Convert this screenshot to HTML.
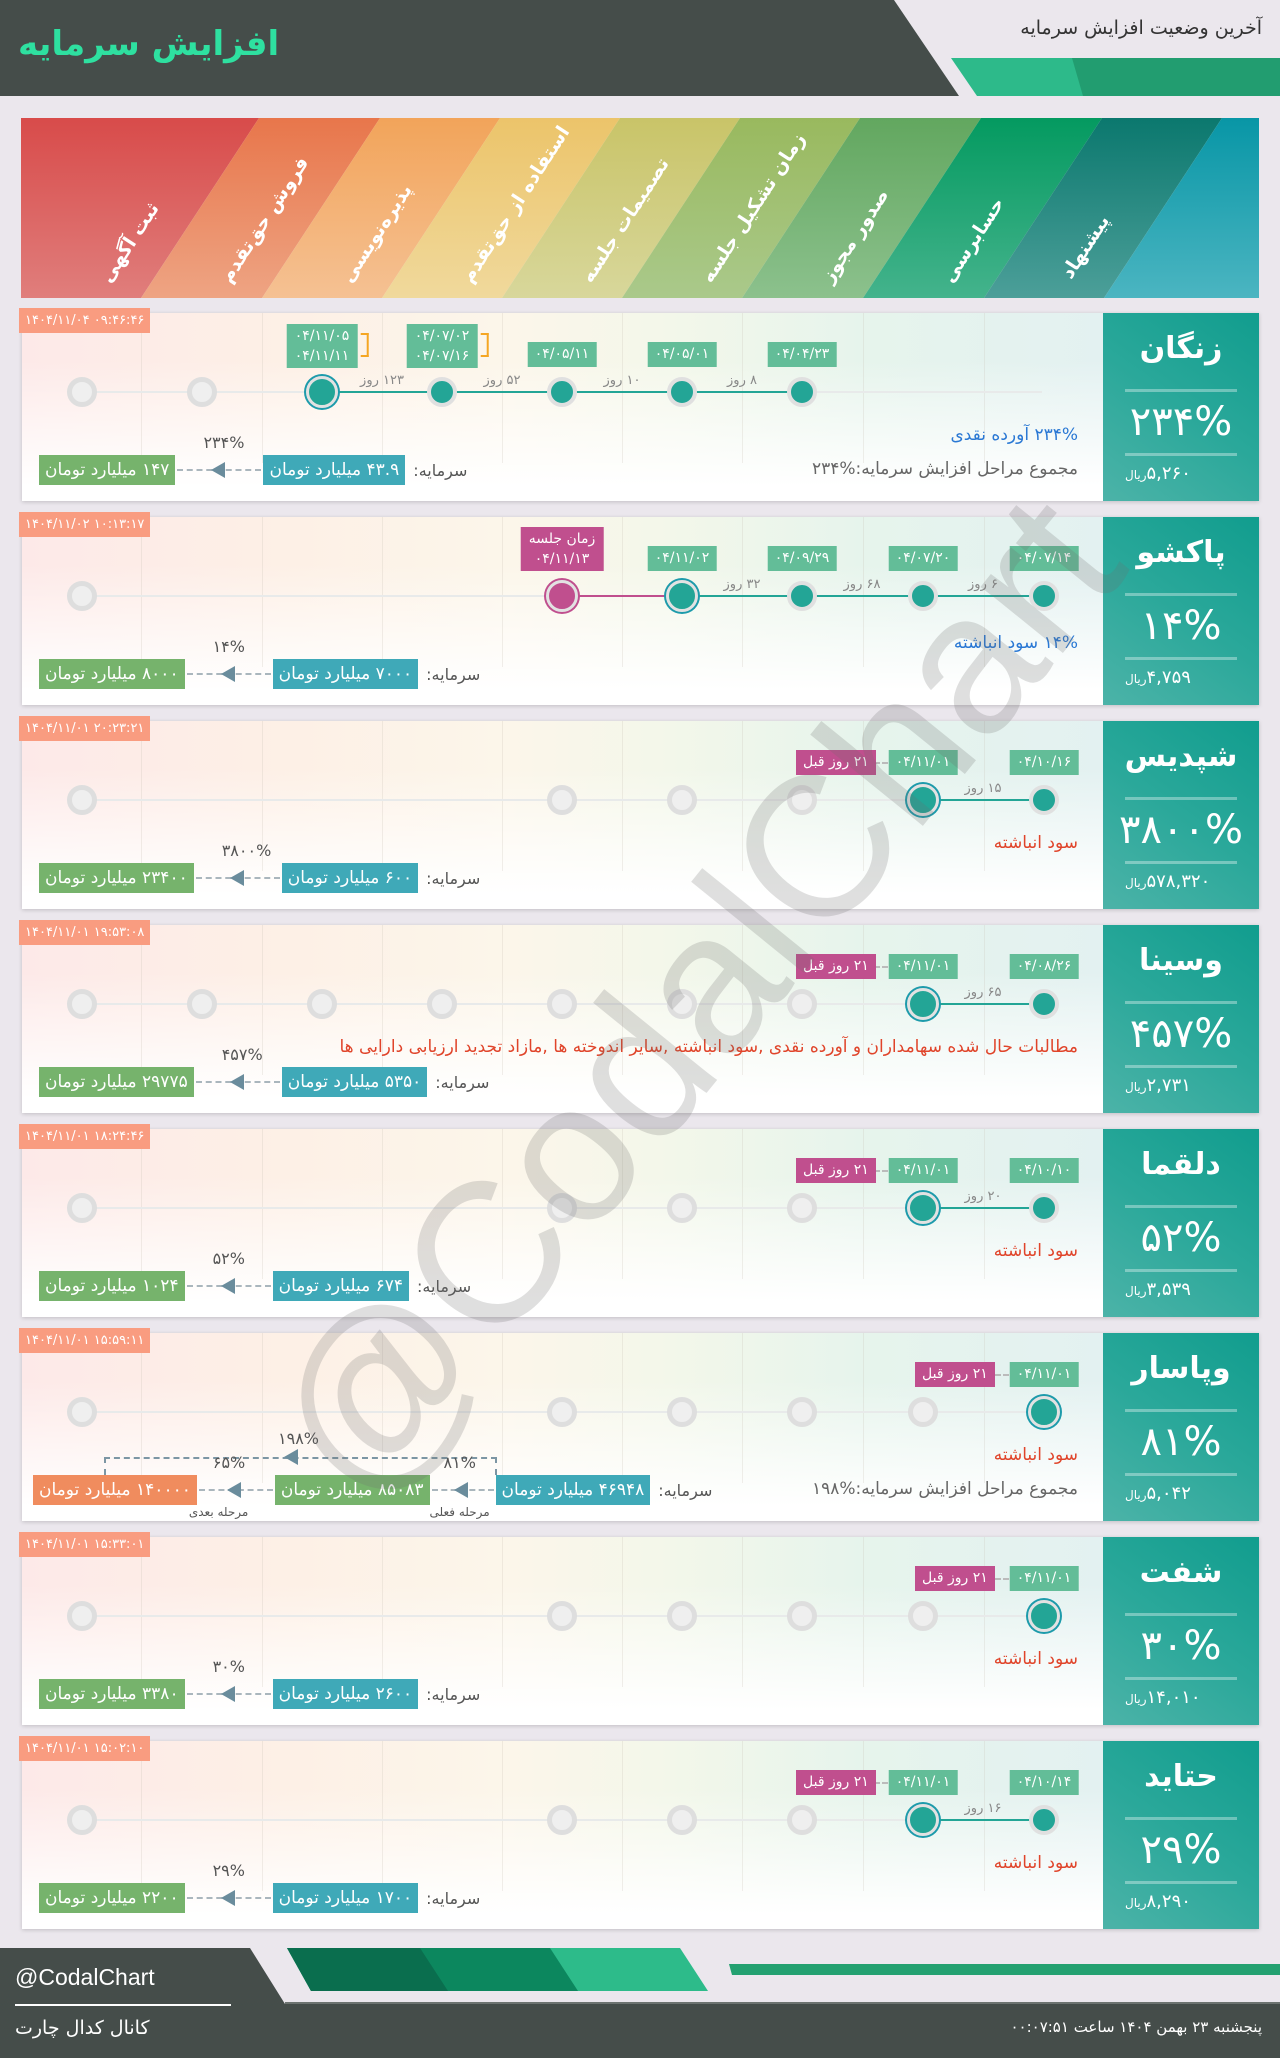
<!DOCTYPE html>
<html><head><meta charset="utf-8">
<style>
*{margin:0;padding:0;box-sizing:border-box}
body{width:1280px;height:2058px;background:#ebe7ed;position:relative;overflow:hidden;font-family:"DejaVu Sans","Liberation Sans",sans-serif}
.ab{position:absolute}
.card{position:absolute;left:22px;width:1237px;height:188px;background:#fff;box-shadow:0 1px 4px rgba(0,0,0,.18)}
.main{position:absolute;left:0;top:0;width:1081px;height:188px;background:linear-gradient(to bottom,rgba(255,255,255,0) 25%,#fff 92%),linear-gradient(to right,#fde9e8 0%,#fdf0e6 25%,#fcf6ea 45%,#f3f7ea 60%,#e6f4ec 78%,#e3f1f1 100%)}
.vl{position:absolute;top:0;width:1px;height:150px;background:rgba(200,190,180,.25)}
.gl{position:absolute;left:60px;width:960px;top:78px;height:2px;background:#e8eaea}
.c{position:absolute;top:79px;border-radius:50%;transform:translate(-50%,-50%)}
.g{width:30px;height:30px;border:5px solid #dedede;background:#efefef}
.t{width:30px;height:30px;border:4px solid #e0e0e0;background:#23a596}
.a{width:32px;height:32px;border:3px solid #e2e2e2;background:#23a596;box-shadow:0 0 0 2px #1d9bab}
.p{width:32px;height:32px;border:3px solid #e2e2e2;background:#c04f8e;box-shadow:0 0 0 2px #c04f8e}
.ln{position:absolute;top:78px;height:2px;background:#23a596}
.d{position:absolute;top:29px;height:25px;line-height:25px;padding:0 7px;background:#63bd98;color:#fff;font-size:14px;transform:translateX(-50%);white-space:nowrap;direction:ltr;unicode-bidi:bidi-override}
.d2{top:11px;height:44px;line-height:20px;padding:2px 8px;text-align:center}
.dr{direction:rtl;unicode-bidi:embed}
.br{position:absolute;right:-11px;top:9px;width:8px;height:24px;border:2px solid #f5a623;border-left:none}
.pk{position:absolute;top:29px;height:25px;line-height:25px;padding:0 7px;background:#c04f8e;color:#fff;font-size:14px;white-space:nowrap;direction:rtl}
.dash{position:absolute;top:41px;height:0;border-top:2px dashed #bbb}
.day{position:absolute;top:60px;font-size:13px;color:#888;transform:translateX(-50%);white-space:nowrap;direction:rtl}
.ts{position:absolute;left:-3px;top:-5px;background:#f99c80;color:#fff;font-size:13px;padding:0 6px;height:25px;line-height:25px;white-space:nowrap;direction:ltr;unicode-bidi:bidi-override}
.rt{position:absolute;right:25px;font-size:17px;white-space:nowrap;direction:rtl}
.lt{direction:ltr;unicode-bidi:embed}
.blue{color:#2a78d4}.red{color:#e0442a}.gr{color:#666}
.row{position:absolute;left:17px;top:142px;display:flex;align-items:center;height:30px}
.bx{height:30px;line-height:30px;padding:0 6px;color:#fff;font-size:17px;white-space:nowrap;direction:rtl}
.bt{background:#3fa9b8}.bg{background:#76b36c}.bo{background:#f08c5e}
.arw{position:relative;width:88px;height:30px}
.arw:before{content:"";position:absolute;left:2px;right:2px;top:14px;border-top:2px dashed #aab6bd}
.tri{position:absolute;left:36px;top:7px;width:0;height:0;border-top:8px solid transparent;border-bottom:8px solid transparent;border-right:14px solid #6a8c9c}
.pct{position:absolute;left:28px;top:-22px;font-size:16px;color:#555;white-space:nowrap}
.lab{font-size:16px;color:#555;margin-left:8px;white-space:nowrap;direction:rtl}
.sm{position:absolute;top:30px;font-size:12px;color:#555;white-space:nowrap;direction:rtl}
.panel{position:absolute;left:1081px;top:0;width:156px;height:188px;background:linear-gradient(215deg,#119d8e 0%,#2aa89a 50%,#4cb3a8 100%);color:#fff;text-align:center}
.nm{position:absolute;left:0;right:0;top:18px;font-size:30px;font-weight:bold}
.hr{position:absolute;left:22px;width:112px;height:3px;background:rgba(255,255,255,.35)}
.pc{position:absolute;left:0;right:0;top:84px;font-size:40px;line-height:50px}
.pr{position:absolute;left:22px;top:150px;font-size:18px;white-space:nowrap;direction:rtl}
.pr small{font-size:12px}
</style></head><body>

<!-- header -->
<svg class="ab" style="left:0;top:0" width="1280" height="118">
<polygon points="0,0 894,0 959,96 0,96" fill="#454d4a"/>
<polygon points="951,58 1280,58 1280,96 977,96" fill="#2dba8a"/>
<polygon points="1072,58 1280,58 1280,96 1083,96" fill="#229d70"/>
<text x="18" y="55" font-size="34" font-weight="bold" fill="#2ee0a0" font-family="DejaVu Sans">افزایش سرمایه</text>
<text x="1262" y="34" font-size="19" fill="#333" text-anchor="end" font-family="DejaVu Sans">آخرین وضعیت افزایش سرمایه</text>
</svg>

<!-- stage header -->
<svg class="ab" style="left:0;top:0" width="1280" height="310">
<defs>
<clipPath id="cp"><rect x="21" y="118" width="1238" height="180"/></clipPath>
<linearGradient id="g0" x1="0" y1="0" x2="0" y2="1"><stop offset="0" stop-color="#d84b4a"/><stop offset="1" stop-color="#e07e7c"/></linearGradient>
<linearGradient id="g1" x1="0" y1="0" x2="0" y2="1"><stop offset="0" stop-color="#e8764b"/><stop offset="1" stop-color="#eea483"/></linearGradient>
<linearGradient id="g2" x1="0" y1="0" x2="0" y2="1"><stop offset="0" stop-color="#f2a45a"/><stop offset="1" stop-color="#f5c193"/></linearGradient>
<linearGradient id="g3" x1="0" y1="0" x2="0" y2="1"><stop offset="0" stop-color="#ecc46a"/><stop offset="1" stop-color="#f0d99c"/></linearGradient>
<linearGradient id="g4" x1="0" y1="0" x2="0" y2="1"><stop offset="0" stop-color="#c9c468"/><stop offset="1" stop-color="#d8d79b"/></linearGradient>
<linearGradient id="g5" x1="0" y1="0" x2="0" y2="1"><stop offset="0" stop-color="#99b95e"/><stop offset="1" stop-color="#aac98b"/></linearGradient>
<linearGradient id="g6" x1="0" y1="0" x2="0" y2="1"><stop offset="0" stop-color="#62a75f"/><stop offset="1" stop-color="#8cc18d"/></linearGradient>
<linearGradient id="g7" x1="0" y1="0" x2="0" y2="1"><stop offset="0" stop-color="#049a60"/><stop offset="1" stop-color="#44b38c"/></linearGradient>
<linearGradient id="g8" x1="0" y1="0" x2="0" y2="1"><stop offset="0" stop-color="#0b786e"/><stop offset="1" stop-color="#4c9f99"/></linearGradient>
<linearGradient id="g9" x1="0" y1="0" x2="0" y2="1"><stop offset="0" stop-color="#0896a6"/><stop offset="1" stop-color="#4bb5c1"/></linearGradient>
</defs>
<g clip-path="url(#cp)">
<polygon points="-82,118 259,118 141,298 -200,298" fill="url(#g0)"/>
<polygon points="259,118 380,118 262,298 141,298" fill="url(#g1)"/>
<polygon points="380,118 500,118 382,298 262,298" fill="url(#g2)"/>
<polygon points="500,118 620,118 502,298 382,298" fill="url(#g3)"/>
<polygon points="620,118 740,118 622,298 502,298" fill="url(#g4)"/>
<polygon points="740,118 860,118 742,298 622,298" fill="url(#g5)"/>
<polygon points="860,118 981,118 863,298 742,298" fill="url(#g6)"/>
<polygon points="981,118 1102,118 984,298 863,298" fill="url(#g7)"/>
<polygon points="1102,118 1222,118 1104,298 984,298" fill="url(#g8)"/>
<polygon points="1222,118 1400,118 1400,298 1104,298" fill="url(#g9)"/>
</g>
<g font-size="19" font-weight="bold" fill="#fff" font-family="DejaVu Sans">
<text x="110" y="284" transform="rotate(-57 110 284)">ثبت آگهی</text>
<text x="230" y="284" transform="rotate(-57 230 284)">فروش حق‌تقدم</text>
<text x="351" y="284" transform="rotate(-57 351 284)">پذیره‌نویسی</text>
<text x="471" y="284" transform="rotate(-57 471 284)">استفاده از حق‌تقدم</text>
<text x="591" y="284" transform="rotate(-57 591 284)">تصمیمات جلسه</text>
<text x="711" y="284" transform="rotate(-57 711 284)">زمان تشکیل جلسه</text>
<text x="831" y="284" transform="rotate(-57 831 284)">صدور مجوز</text>
<text x="952" y="284" transform="rotate(-57 952 284)">حسابرسی</text>
<text x="1071" y="280" transform="rotate(-57 1071 280)">پیشنهاد</text>
</g>
</svg>

<!-- CARD 1 -->
<div class="card" style="top:313px"><div class="main">
<div class="vl" style="left:119px"></div><div class="vl" style="left:240px"></div><div class="vl" style="left:360px"></div><div class="vl" style="left:480px"></div><div class="vl" style="left:600px"></div><div class="vl" style="left:720px"></div><div class="vl" style="left:841px"></div><div class="vl" style="left:962px"></div>
<div class="gl"></div>
<div class="ln" style="left:300px;width:480px"></div>
<div class="c g" style="left:60px"></div><div class="c g" style="left:180px"></div>
<div class="c a" style="left:300px"></div><div class="c t" style="left:420px"></div><div class="c t" style="left:540px"></div><div class="c t" style="left:660px"></div><div class="c t" style="left:780px"></div>
<div class="d d2" style="left:300px">۰۴/۱۱/۰۵<br>۰۴/۱۱/۱۱<div class="br"></div></div>
<div class="d d2" style="left:420px">۰۴/۰۷/۰۲<br>۰۴/۰۷/۱۶<div class="br"></div></div>
<div class="d" style="left:540px">۰۴/۰۵/۱۱</div><div class="d" style="left:660px">۰۴/۰۵/۰۱</div><div class="d" style="left:780px">۰۴/۰۴/۲۳</div>
<div class="day" style="left:360px">۱۲۳ روز</div><div class="day" style="left:480px">۵۲ روز</div><div class="day" style="left:600px">۱۰ روز</div><div class="day" style="left:720px">۸ روز</div>
<div class="rt blue" style="top:112px">۲۳۴% آورده نقدی</div>
<div class="rt gr" style="top:146px">مجموع مراحل افزایش سرمایه:<span class="lt">۲۳۴%</span></div>
<div class="row"><div class="bx bg">۱۴۷ میلیارد تومان</div><div class="arw"><div class="tri"></div><div class="pct">۲۳۴%</div></div><div class="bx bt">۴۳.۹ میلیارد تومان</div><div class="lab">سرمایه:</div></div>
<div class="ts">۱۴۰۴/۱۱/۰۴ ۰۹:۴۶:۴۶</div>
</div><div class="panel"><div class="nm">زنگان</div><div class="hr" style="top:76px"></div><div class="pc">۲۳۴%</div><div class="hr" style="top:140px"></div><div class="pr">۵,۲۶۰<small>ریال</small></div></div></div>

<!-- CARD 2 -->
<div class="card" style="top:517px"><div class="main">
<div class="vl" style="left:119px"></div><div class="vl" style="left:240px"></div><div class="vl" style="left:360px"></div><div class="vl" style="left:480px"></div><div class="vl" style="left:600px"></div><div class="vl" style="left:720px"></div><div class="vl" style="left:841px"></div><div class="vl" style="left:962px"></div>
<div class="gl"></div>
<div class="ln" style="left:540px;width:120px;background:#c04f8e"></div>
<div class="ln" style="left:660px;width:362px"></div>
<div class="c g" style="left:60px"></div>
<div class="c p" style="left:540px"></div><div class="c a" style="left:660px"></div><div class="c t" style="left:780px"></div><div class="c t" style="left:901px"></div><div class="c t" style="left:1022px"></div>
<div class="d d2" style="left:540px;background:#c04f8e;top:10px"><span class="dr">زمان جلسه</span><br>۰۴/۱۱/۱۳</div>
<div class="d" style="left:660px">۰۴/۱۱/۰۲</div><div class="d" style="left:780px">۰۴/۰۹/۲۹</div><div class="d" style="left:901px">۰۴/۰۷/۲۰</div><div class="d" style="left:1022px">۰۴/۰۷/۱۴</div>
<div class="day" style="left:720px">۳۲ روز</div><div class="day" style="left:840px">۶۸ روز</div><div class="day" style="left:961px">۶ روز</div>
<div class="rt blue" style="top:116px">۱۴% سود انباشته</div>
<div class="row"><div class="bx bg">۸۰۰۰ میلیارد تومان</div><div class="arw"><div class="tri"></div><div class="pct">۱۴%</div></div><div class="bx bt">۷۰۰۰ میلیارد تومان</div><div class="lab">سرمایه:</div></div>
<div class="ts">۱۴۰۴/۱۱/۰۲ ۱۰:۱۳:۱۷</div>
</div><div class="panel"><div class="nm">پاکشو</div><div class="hr" style="top:76px"></div><div class="pc">۱۴%</div><div class="hr" style="top:140px"></div><div class="pr">۴,۷۵۹<small>ریال</small></div></div></div>

<!-- CARD 3 -->
<div class="card" style="top:721px"><div class="main">
<div class="vl" style="left:119px"></div><div class="vl" style="left:240px"></div><div class="vl" style="left:360px"></div><div class="vl" style="left:480px"></div><div class="vl" style="left:600px"></div><div class="vl" style="left:720px"></div><div class="vl" style="left:841px"></div><div class="vl" style="left:962px"></div>
<div class="gl"></div>
<div class="ln" style="left:901px;width:121px"></div>
<div class="c g" style="left:60px"></div><div class="c g" style="left:540px"></div><div class="c g" style="left:660px"></div><div class="c g" style="left:780px"></div>
<div class="c a" style="left:901px"></div><div class="c t" style="left:1022px"></div>
<div class="d" style="left:901px">۰۴/۱۱/۰۱</div><div class="d" style="left:1022px">۰۴/۱۰/۱۶</div>
<div class="dash" style="left:844px;width:22px"></div><div class="pk" style="left:774px">۲۱ روز قبل</div>
<div class="day" style="left:961px">۱۵ روز</div>
<div class="rt red" style="top:112px">سود انباشته</div>
<div class="row"><div class="bx bg">۲۳۴۰۰ میلیارد تومان</div><div class="arw"><div class="tri"></div><div class="pct">۳۸۰۰%</div></div><div class="bx bt">۶۰۰ میلیارد تومان</div><div class="lab">سرمایه:</div></div>
<div class="ts">۱۴۰۴/۱۱/۰۱ ۲۰:۲۳:۲۱</div>
</div><div class="panel"><div class="nm">شپدیس</div><div class="hr" style="top:76px"></div><div class="pc">۳۸۰۰%</div><div class="hr" style="top:140px"></div><div class="pr">۵۷۸,۳۲۰<small>ریال</small></div></div></div>

<!-- CARD 4 -->
<div class="card" style="top:925px"><div class="main">
<div class="vl" style="left:119px"></div><div class="vl" style="left:240px"></div><div class="vl" style="left:360px"></div><div class="vl" style="left:480px"></div><div class="vl" style="left:600px"></div><div class="vl" style="left:720px"></div><div class="vl" style="left:841px"></div><div class="vl" style="left:962px"></div>
<div class="gl"></div>
<div class="ln" style="left:901px;width:121px"></div>
<div class="c g" style="left:60px"></div><div class="c g" style="left:180px"></div><div class="c g" style="left:300px"></div><div class="c g" style="left:420px"></div><div class="c g" style="left:540px"></div><div class="c g" style="left:660px"></div><div class="c g" style="left:780px"></div>
<div class="c a" style="left:901px"></div><div class="c t" style="left:1022px"></div>
<div class="d" style="left:901px">۰۴/۱۱/۰۱</div><div class="d" style="left:1022px">۰۴/۰۸/۲۶</div>
<div class="dash" style="left:844px;width:22px"></div><div class="pk" style="left:774px">۲۱ روز قبل</div>
<div class="day" style="left:961px">۶۵ روز</div>
<div class="rt red" style="top:112px">مطالبات حال شده سهامداران و آورده نقدی ,سود انباشته ,سایر اندوخته ها ,مازاد تجدید ارزیابی دارایی ها</div>
<div class="row"><div class="bx bg">۲۹۷۷۵ میلیارد تومان</div><div class="arw"><div class="tri"></div><div class="pct">۴۵۷%</div></div><div class="bx bt">۵۳۵۰ میلیارد تومان</div><div class="lab">سرمایه:</div></div>
<div class="ts">۱۴۰۴/۱۱/۰۱ ۱۹:۵۳:۰۸</div>
</div><div class="panel"><div class="nm">وسینا</div><div class="hr" style="top:76px"></div><div class="pc">۴۵۷%</div><div class="hr" style="top:140px"></div><div class="pr">۲,۷۳۱<small>ریال</small></div></div></div>

<!-- CARD 5 -->
<div class="card" style="top:1129px"><div class="main">
<div class="vl" style="left:119px"></div><div class="vl" style="left:240px"></div><div class="vl" style="left:360px"></div><div class="vl" style="left:480px"></div><div class="vl" style="left:600px"></div><div class="vl" style="left:720px"></div><div class="vl" style="left:841px"></div><div class="vl" style="left:962px"></div>
<div class="gl"></div>
<div class="ln" style="left:901px;width:121px"></div>
<div class="c g" style="left:60px"></div><div class="c g" style="left:540px"></div><div class="c g" style="left:660px"></div><div class="c g" style="left:780px"></div>
<div class="c a" style="left:901px"></div><div class="c t" style="left:1022px"></div>
<div class="d" style="left:901px">۰۴/۱۱/۰۱</div><div class="d" style="left:1022px">۰۴/۱۰/۱۰</div>
<div class="dash" style="left:844px;width:22px"></div><div class="pk" style="left:774px">۲۱ روز قبل</div>
<div class="day" style="left:961px">۲۰ روز</div>
<div class="rt red" style="top:112px">سود انباشته</div>
<div class="row"><div class="bx bg">۱۰۲۴ میلیارد تومان</div><div class="arw"><div class="tri"></div><div class="pct">۵۲%</div></div><div class="bx bt">۶۷۴ میلیارد تومان</div><div class="lab">سرمایه:</div></div>
<div class="ts">۱۴۰۴/۱۱/۰۱ ۱۸:۲۴:۴۶</div>
</div><div class="panel"><div class="nm">دلقما</div><div class="hr" style="top:76px"></div><div class="pc">۵۲%</div><div class="hr" style="top:140px"></div><div class="pr">۳,۵۳۹<small>ریال</small></div></div></div>

<!-- CARD 6 -->
<div class="card" style="top:1333px"><div class="main">
<div class="vl" style="left:119px"></div><div class="vl" style="left:240px"></div><div class="vl" style="left:360px"></div><div class="vl" style="left:480px"></div><div class="vl" style="left:600px"></div><div class="vl" style="left:720px"></div><div class="vl" style="left:841px"></div><div class="vl" style="left:962px"></div>
<div class="gl"></div>
<div class="c g" style="left:60px"></div><div class="c g" style="left:540px"></div><div class="c g" style="left:660px"></div><div class="c g" style="left:780px"></div><div class="c g" style="left:901px"></div>
<div class="c a" style="left:1022px"></div>
<div class="d" style="left:1022px">۰۴/۱۱/۰۱</div>
<div class="dash" style="left:965px;width:22px"></div><div class="pk" style="left:893px">۲۱ روز قبل</div>
<div class="rt red" style="top:112px">سود انباشته</div>
<div class="rt gr" style="top:146px">مجموع مراحل افزایش سرمایه:<span class="lt">۱۹۸%</span></div>
<div class="ab" style="left:82px;top:124px;width:393px;height:18px;border:2px dashed #7c96a4;border-bottom:none"></div>
<div class="tri" style="left:262px;top:116px"></div>
<div class="pct" style="left:256px;top:96px">۱۹۸%</div>
<div class="row" style="left:11px"><div class="bx bo">۱۴۰۰۰۰ میلیارد تومان</div><div class="arw" style="width:78px"><div class="tri" style="left:30px"></div><div class="pct" style="left:16px">۶۵%</div><div class="sm" style="left:-8px">مرحله بعدی</div></div><div class="bx bg">۸۵۰۸۳ میلیارد تومان</div><div class="arw" style="width:66px"><div class="tri" style="left:24px"></div><div class="pct" style="left:14px">۸۱%</div><div class="sm" style="left:0px">مرحله فعلی</div></div><div class="bx bt">۴۶۹۴۸ میلیارد تومان</div><div class="lab">سرمایه:</div></div>
<div class="ts">۱۴۰۴/۱۱/۰۱ ۱۵:۵۹:۱۱</div>
</div><div class="panel"><div class="nm">وپاسار</div><div class="hr" style="top:76px"></div><div class="pc">۸۱%</div><div class="hr" style="top:140px"></div><div class="pr">۵,۰۴۲<small>ریال</small></div></div></div>

<!-- CARD 7 -->
<div class="card" style="top:1537px"><div class="main">
<div class="vl" style="left:119px"></div><div class="vl" style="left:240px"></div><div class="vl" style="left:360px"></div><div class="vl" style="left:480px"></div><div class="vl" style="left:600px"></div><div class="vl" style="left:720px"></div><div class="vl" style="left:841px"></div><div class="vl" style="left:962px"></div>
<div class="gl"></div>
<div class="c g" style="left:60px"></div><div class="c g" style="left:540px"></div><div class="c g" style="left:660px"></div><div class="c g" style="left:780px"></div><div class="c g" style="left:901px"></div>
<div class="c a" style="left:1022px"></div>
<div class="d" style="left:1022px">۰۴/۱۱/۰۱</div>
<div class="dash" style="left:965px;width:22px"></div><div class="pk" style="left:893px">۲۱ روز قبل</div>
<div class="rt red" style="top:112px">سود انباشته</div>
<div class="row"><div class="bx bg">۳۳۸۰ میلیارد تومان</div><div class="arw"><div class="tri"></div><div class="pct">۳۰%</div></div><div class="bx bt">۲۶۰۰ میلیارد تومان</div><div class="lab">سرمایه:</div></div>
<div class="ts">۱۴۰۴/۱۱/۰۱ ۱۵:۳۳:۰۱</div>
</div><div class="panel"><div class="nm">شفت</div><div class="hr" style="top:76px"></div><div class="pc">۳۰%</div><div class="hr" style="top:140px"></div><div class="pr">۱۴,۰۱۰<small>ریال</small></div></div></div>

<!-- CARD 8 -->
<div class="card" style="top:1741px"><div class="main">
<div class="vl" style="left:119px"></div><div class="vl" style="left:240px"></div><div class="vl" style="left:360px"></div><div class="vl" style="left:480px"></div><div class="vl" style="left:600px"></div><div class="vl" style="left:720px"></div><div class="vl" style="left:841px"></div><div class="vl" style="left:962px"></div>
<div class="gl"></div>
<div class="ln" style="left:901px;width:121px"></div>
<div class="c g" style="left:60px"></div><div class="c g" style="left:540px"></div><div class="c g" style="left:660px"></div><div class="c g" style="left:780px"></div>
<div class="c a" style="left:901px"></div><div class="c t" style="left:1022px"></div>
<div class="d" style="left:901px">۰۴/۱۱/۰۱</div><div class="d" style="left:1022px">۰۴/۱۰/۱۴</div>
<div class="dash" style="left:844px;width:22px"></div><div class="pk" style="left:774px">۲۱ روز قبل</div>
<div class="day" style="left:961px">۱۶ روز</div>
<div class="rt red" style="top:112px">سود انباشته</div>
<div class="row"><div class="bx bg">۲۲۰۰ میلیارد تومان</div><div class="arw"><div class="tri"></div><div class="pct">۲۹%</div></div><div class="bx bt">۱۷۰۰ میلیارد تومان</div><div class="lab">سرمایه:</div></div>
<div class="ts">۱۴۰۴/۱۱/۰۱ ۱۵:۰۲:۱۰</div>
</div><div class="panel"><div class="nm">حتاید</div><div class="hr" style="top:76px"></div><div class="pc">۲۹%</div><div class="hr" style="top:140px"></div><div class="pr">۸,۲۹۰<small>ریال</small></div></div></div>

<!-- watermark -->
<div class="ab" style="left:696px;top:998px;width:0;height:0">
<div style="position:absolute;left:-680px;top:-110px;width:1360px;text-align:center;font-family:'Liberation Sans',sans-serif;font-size:200px;line-height:220px;color:rgba(110,110,110,.22);transform:rotate(-51deg);white-space:nowrap">@CodalChart</div>
</div>

<!-- footer -->
<svg class="ab" style="left:0;top:1940px" width="1280" height="118">
<polygon points="0,8 250,8 285,64 1280,64 1280,118 0,118" fill="#454d4a"/>
<line x1="285" y1="63" x2="1280" y2="63" stroke="#6c7370" stroke-width="2"/>
<polygon points="287,8 680,8 708,51 311,51" fill="#2dbb8a"/>
<polygon points="287,8 550,8 578,51 311,51" fill="#0c875e"/>
<polygon points="287,8 420,8 448,51 311,51" fill="#0a6e4e"/>
<polygon points="729,24 1280,24 1280,35 732,35" fill="#23a070"/>
<text x="15" y="45" font-size="23" fill="#fff" font-family="Liberation Sans">@CodalChart</text>
<rect x="15" y="64" width="216" height="2" fill="#fff"/>
<text x="15" y="94" font-size="19" fill="#fff" font-family="DejaVu Sans">کانال کدال چارت</text>
</svg>
<div class="ab" style="right:18px;top:2018px;font-size:15px;color:#fff;direction:rtl;white-space:nowrap">پنجشنبه ۲۳ بهمن ۱۴۰۴ ساعت <span style="direction:ltr;unicode-bidi:embed">۰۰:۰۷:۵۱</span></div>
</body></html>
